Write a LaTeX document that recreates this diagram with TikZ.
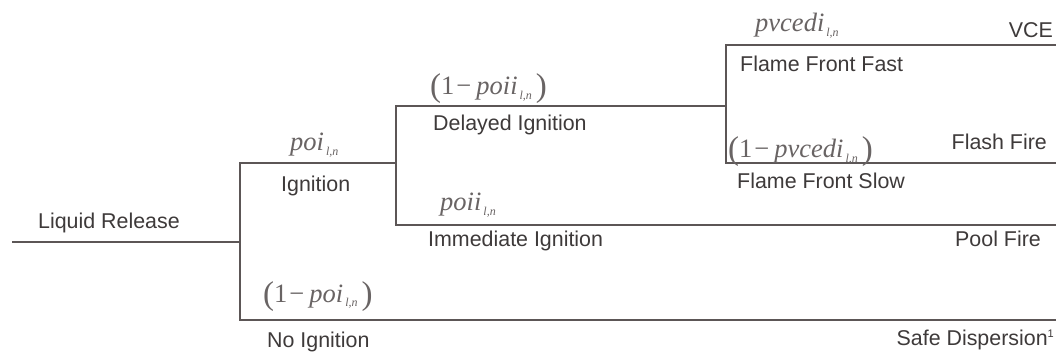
\documentclass[tikz,border=0pt]{standalone}
\usepackage{fontspec}
\setmainfont{Liberation Sans}
\newfontfamily\eqfont{Liberation Serif}
\definecolor{linegray}{RGB}{92,86,86}
\definecolor{labelgray}{RGB}{62,58,58}
\definecolor{eqgray}{RGB}{105,100,100}
% probability with the l,n subscript
\newcommand{\pr}[1]{{\eqfont\itshape #1}\kern2pt\raisebox{-4.5pt}{\fontsize{12}{12}\selectfont\eqfont\itshape l,n}}
% complement (1 - p) with tall brackets
\newcommand{\bigparen}[1]{\raisebox{-2pt}{\fontsize{33}{33}\selectfont\eqfont #1}}
\newcommand{\prc}[1]{\bigparen{(}{\eqfont 1\kern2pt−\kern5pt}\pr{#1}\kern4pt\bigparen{)}}
\begin{document}
\begin{tikzpicture}[x=1pt,y=-1pt,
  branch/.style={draw=linegray,line width=2.3pt,line join=miter},
  lbl/.style={inner sep=0pt,text=labelgray,font=\fontsize{21.4}{24}\selectfont},
  prob/.style={inner sep=0pt,text=eqgray,font=\fontsize{26.5}{30}\selectfont}]
\useasboundingbox[fill=white] (0,0) rectangle (1056,352);
% branch points of the event tree
\coordinate (rel0) at (12,242);
\coordinate (fork1) at (240,242);
\coordinate (ign0) at (240,163);
\coordinate (noign0) at (240,320);
\coordinate (fork2) at (396,163);
\coordinate (del0) at (396,106);
\coordinate (imm0) at (396,225);
\coordinate (fork3) at (726,106);
\coordinate (fast0) at (726,45);
\coordinate (slow0) at (726,163);
\coordinate (endVCE) at (1056,45);
\coordinate (endFlash) at (1056,163);
\coordinate (endPool) at (1056,225);
\coordinate (endSafe) at (1056,320);
% tree lines
\draw[branch] (rel0) -- (fork1);
\draw[branch] (fork2) -- (ign0) -- (noign0) -- (endSafe);
\draw[branch] (fork3) -- (del0) -- (imm0) -- (endPool);
\draw[branch] (endVCE) -- (fast0) -- (slow0) -- (endFlash);
% event labels
\node[lbl,anchor=base west] (tRel) at (38,229) {Liquid Release};
\node[lbl,anchor=base west] (tIgn) at (281,192) {Ignition};
\node[lbl,anchor=base west] (tNoIgn) at (267,347) {No Ignition};
\node[lbl,anchor=base west] (tDel) at (433,131) {Delayed Ignition};
\node[lbl,anchor=base west] (tImm) at (428,247) {Immediate Ignition};
\node[lbl,anchor=base west] (tFast) at (740,72) {Flame Front Fast};
\node[lbl,anchor=base west] (tSlow) at (737,189) {Flame Front Slow};
% outcomes
\node[lbl,anchor=base east] (oVCE) at (1053,38) {VCE};
\node[lbl,anchor=base east] (oFlash) at (1047,150) {Flash Fire};
\node[lbl,anchor=base east] (oPool) at (1041,247) {Pool Fire};
\node[lbl,anchor=base east] (oSafe) at (1054,345) {Safe Dispersion\raisebox{8pt}{\fontsize{11}{11}\selectfont 1}};
% branch probabilities
\node[prob,anchor=base west] (pIgn) at (290,151) {\pr{poi}};
\node[prob,anchor=base west] (pNoIgn) at (263,302) {\prc{poi}};
\node[prob,anchor=base west] (pDel) at (430,95) {\prc{poii}};
\node[prob,anchor=base west] (pImm) at (440,211) {\pr{poii}};
\node[prob,anchor=base west] (pFast) at (755,32) {\pr{pvcedi}};
\node[prob,anchor=base west] (pSlow) at (728,158) {\prc{pvcedi}};
\end{tikzpicture}
\end{document}
